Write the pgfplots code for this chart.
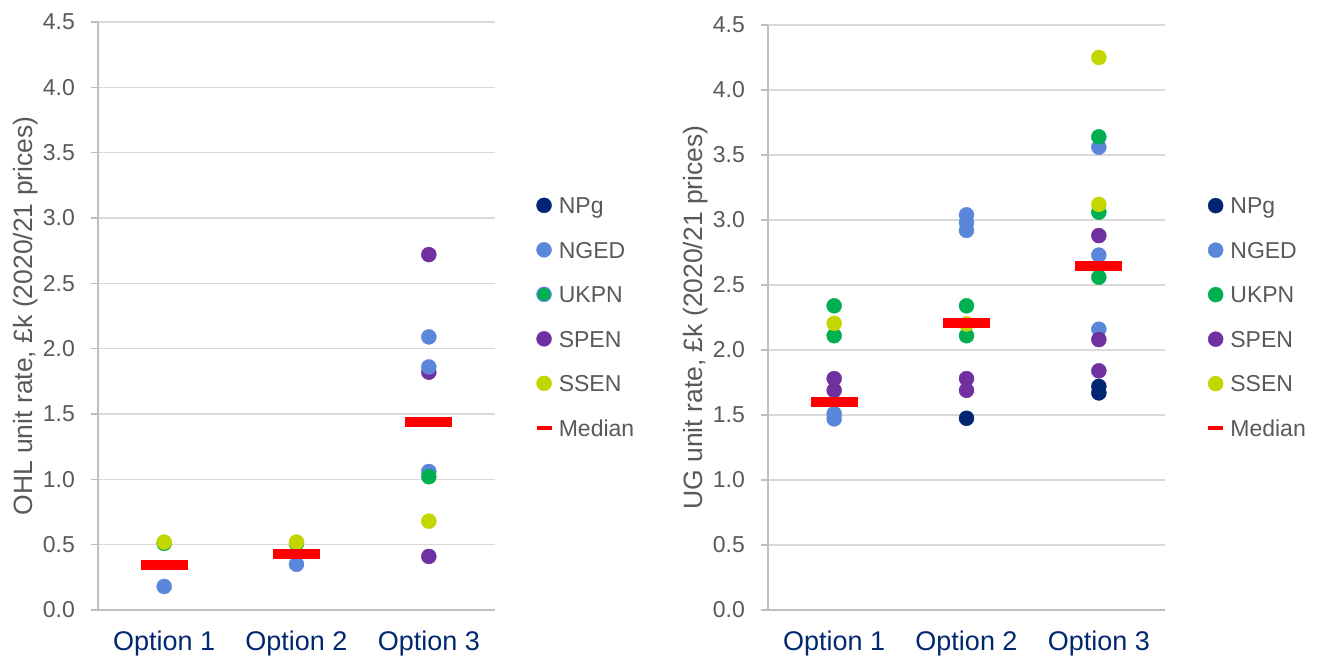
\documentclass[border=0pt]{standalone}
\usepackage{pgfplots}
\pgfplotsset{compat=1.18}
\usepackage{fontspec}
\setmainfont{Liberation Sans}
\definecolor{cNPg}{RGB}{0,38,115}
\definecolor{cNGED}{RGB}{91,135,218}
\definecolor{cUKPN}{RGB}{0,176,80}
\definecolor{cSPEN}{RGB}{112,48,160}
\definecolor{cSSEN}{RGB}{196,214,0}
\definecolor{cMed}{RGB}{255,0,0}
\definecolor{tgray}{RGB}{89,89,89}
\definecolor{xblue}{RGB}{0,40,110}
\definecolor{gridc}{RGB}{217,217,217}
\definecolor{axc}{RGB}{191,191,191}
\pgfplotsset{
  dot/.style={only marks, mark=*, color=#1, mark size=7.5pt,
    mark options={draw=none, fill=#1},
    legend image code/.code={\path (0pt,0pt) (15pt,0pt); \fill (7.5pt,0pt) circle[radius=7.5pt];}},
  med/.style={only marks, mark=-, color=cMed, mark size=23.5pt,
    mark options={line width=10pt, draw=cMed},
    legend image code/.code={\path (0pt,0pt) (15pt,0pt); \draw[cMed, line width=4.5pt] (0pt,0pt) -- (15pt,0pt);}},
  base/.style={scale only axis, width=397pt,
    xmin=0.5, xmax=3.5, ymin=0, ymax=4.5,
    axis lines*=left, axis line style={draw=axc, line width=1.8pt},
    ymajorgrids, grid style={draw=gridc, line width=1.5pt},
    xtick={1,2,3}, xticklabels={Option 1,Option 2,Option 3},
    ytick={0,0.5,1,1.5,2,2.5,3,3.5,4,4.5},
    tick align=outside, major tick length=7pt,
    ytick style={draw=axc, line width=1.5pt},
    xtick style={draw=none},
    /pgf/number format/.cd, fixed, fixed zerofill, precision=1, assume math mode=true, /pgfplots/.cd,
    yticklabel style={font=\fontsize{23}{23}\selectfont, text=tgray, anchor=east, inner sep=0pt, xshift=-16pt},
    xticklabel style={font=\fontsize{27}{27}\selectfont, text=xblue, anchor=base, inner sep=0pt, yshift=-33pt},
    ylabel style={font=\fontsize{26.5}{26.5}\selectfont, text=tgray, inner sep=0pt, text height=19pt, text depth=0pt,
      at={(axis description cs:-0.188,0.5)}, anchor=center, rotate=0},
    legend style={draw=none, fill=none, inner sep=0pt, outer sep=0pt, anchor=west,
      font=\fontsize{23}{23}\selectfont, text=tgray, row sep=28pt,
      nodes={inner sep=0pt, text height=16.5pt, text depth=0pt},
      /tikz/every odd column/.append style={column sep=5pt}},
    legend cell align=left,
  },
}
\begin{document}
\begin{tikzpicture}
\useasboundingbox (0,0) rectangle (1317pt,657pt);
\begin{axis}[base, at={(98pt,47pt)}, anchor=south west, height=588pt,
  ylabel={OHL unit rate, £k (2020/21 prices)},
  legend style={at={(1.099,0.499)}}]
\addlegendimage{dot=cNPg}
\addlegendentry{NPg}
\addplot[dot=cNGED] coordinates {(1,0.18) (2,0.35) (3,2.09) (3,1.06)};
\addlegendentry{NGED}
\addplot[dot=cUKPN, legend image code/.code={\path (0pt,0pt) (15pt,0pt); \fill[cNGED] (7.5pt,0pt) circle[radius=7.5pt]; \fill[cUKPN] (7.5pt,0pt) circle[radius=6.2pt];}] coordinates {(1,0.51) (2,0.51) (3,1.02)};
\addlegendentry{UKPN}
\addplot[dot=cSPEN] coordinates {(3,2.72) (3,1.82) (3,0.41)};
\addlegendentry{SPEN}
\addplot[dot=cSSEN] coordinates {(1,0.52) (2,0.52) (3,0.68)};
\addlegendentry{SSEN}
\addplot[med] coordinates {(1,0.345) (2,0.43) (3,1.44)};
\addlegendentry{Median}
\addplot[dot=cNGED, forget plot] coordinates {(3,1.86)};
\end{axis}
\begin{axis}[base, at={(768pt,47pt)}, anchor=south west, height=585pt,
  ylabel={UG unit rate, £k (2020/21 prices)},
  legend style={at={(1.103,0.501)}}]
\addplot[dot=cNPg] coordinates {(2,1.475) (3,1.72) (3,1.67)};
\addlegendentry{NPg}
\addplot[dot=cNGED] coordinates {(1,1.51) (1,1.47) (2,3.04) (2,2.98) (2,2.92) (3,3.56) (3,2.73) (3,2.16)};
\addlegendentry{NGED}
\addplot[dot=cUKPN] coordinates {(1,2.34) (1,2.11) (2,2.34) (2,2.11) (3,3.64) (3,3.06) (3,2.56)};
\addlegendentry{UKPN}
\addplot[dot=cSPEN] coordinates {(1,1.78) (1,1.69) (2,1.78) (2,1.69) (3,2.88) (3,2.08) (3,1.84)};
\addlegendentry{SPEN}
\addplot[dot=cSSEN] coordinates {(1,2.205) (2,2.20) (3,4.25) (3,3.12)};
\addlegendentry{SSEN}
\addplot[med] coordinates {(1,1.60) (2,2.21) (3,2.65)};
\addlegendentry{Median}
\end{axis}
\end{tikzpicture}
\end{document}
